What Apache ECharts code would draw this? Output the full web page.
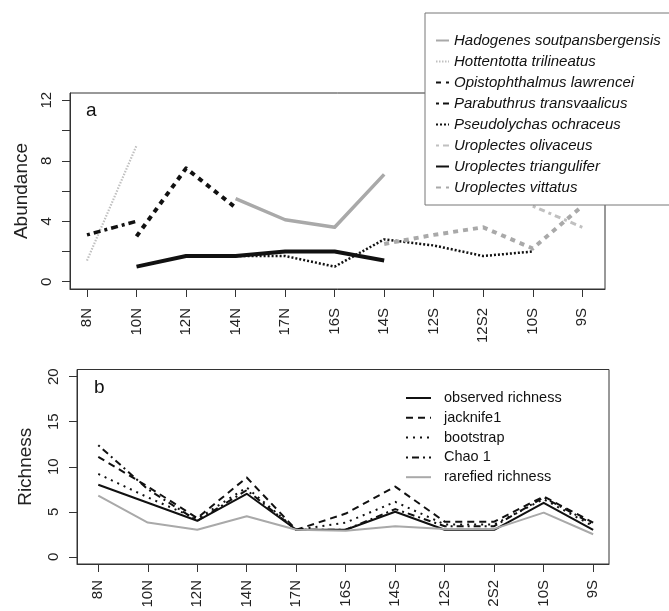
<!DOCTYPE html>
<html><head><meta charset="utf-8">
<script src="https://cdn.jsdelivr.net/npm/echarts@6/dist/echarts.min.js"></script>
<style>html,body{margin:0;padding:0;background:#fff}#c{width:669px;height:611px}</style>
</head><body><div id="c"></div>
<script>
// ---------- Panel a data ----------
var sitesA = ['8N','10N','12N','14N','17N','16S','14S','12S','12S2','10S','9S'];
var hadogenes    = [null,null,null,5.5,4.1,3.6,7.1,null,null,null,null];
var hottentotta  = [1.4,9.0,null,null,null,null,null,null,null,null,null];
var opistophthalmus = [null,3.0,7.5,4.9,null,null,null,null,null,null,null];
var parabuthrus  = [3.1,4.0,null,null,null,null,null,null,null,null,null];
var pseudolychas = [null,null,null,1.7,1.7,1.0,2.8,2.4,1.7,2.0,null];
var olivaceus    = [null,null,null,null,null,null,null,null,null,5.0,3.6];
var triangulifer = [null,1.0,1.7,1.7,2.0,2.0,1.4,null,null,null,null];
var vittatus     = [null,null,null,null,null,null,2.5,3.1,3.6,2.2,5.0];
var ticksA = [0,2,4,6,8,10,12];
var labelsA = [0,4,8,12];

// ---------- Panel b data ----------
var sitesB = ['8N','10N','12N','14N','17N','16S','14S','12S','2S2','10S','9S'];
var observed  = [8,6,4,7,3,3,5,3,3,6,3];
var jacknife1 = [11.1,7.8,4.3,8.8,3.0,4.8,7.8,3.9,3.9,6.7,3.8];
var bootstrap = [9.2,6.6,4.2,7.7,3.0,3.8,6.1,3.6,3.6,6.4,3.4];
var chao1     = [12.4,7.5,4.0,7.4,3.0,3.0,5.3,3.4,3.4,6.6,3.6];
var rarefied  = [6.8,3.8,3.0,4.5,3.0,2.9,3.4,3.1,3.1,4.9,2.5];
var ticksB = [0,5,10,15,20];

function pairs(arr){
  var out = [];
  arr.forEach(function(v,i){ if(v!==null) out.push([i,v]); });
  return out;
}
var idx = sitesA.map(function(_,i){return i;});
var FONT = '"Liberation Sans", Arial, sans-serif';

function xAxis(gi, sites, min, max, margin){
  return {
    type:'value', gridIndex:gi, min:min, max:max,
    axisLine:{show:true, onZero:false, lineStyle:{color:'#333',width:1}}, splitLine:{show:false},
    axisTick:{show:true, inside:false, length:8, customValues:idx, lineStyle:{color:'#333',width:1}},
    axisLabel:{show:true, customValues:idx, rotate:90, margin:margin, fontSize:15, color:'#222', fontFamily:FONT,
      formatter:function(v){ return sites[Math.round(v)]; }}
  };
}
function yAxis(gi, min, max, ticks, labels, name, nameGap){
  return {
    type:'value', gridIndex:gi, min:min, max:max,
    name:name, nameLocation:'middle', nameRotate:90, nameGap:nameGap,
    nameTextStyle:{fontSize:19, color:'#222', fontFamily:FONT},
    axisLine:{show:true, onZero:false, lineStyle:{color:'#333',width:1}}, splitLine:{show:false},
    axisTick:{show:true, inside:false, length:8, customValues:ticks, lineStyle:{color:'#333',width:1}},
    axisLabel:{show:true, customValues:labels, rotate:90, align:'center', verticalAlign:'bottom', margin:16,
      fontSize:15, color:'#222', fontFamily:FONT}
  };
}
function ser(name, arr, xi, color, width, type){
  return {
    name:name, type:'line', xAxisIndex:xi, yAxisIndex:xi, data:pairs(arr),
    showSymbol:false, symbol:'none', animation:false, silent:true,
    lineStyle:{color:color, width:width, type:type, cap:'butt', join:'round'},
    itemStyle:{color:color}
  };
}

var GRAY = '#a9a9a9', LGRAY = '#c0c0c0', BLK = '#111';
var sA = [
  ser('Hadogenes soutpansbergensis', hadogenes, 0, GRAY, 3.5, 'solid'),
  ser('Hottentotta trilineatus', hottentotta, 0, LGRAY, 2.2, [1.5,1.5]),
  ser('Opistophthalmus lawrencei', opistophthalmus, 0, BLK, 4, [5,5]),
  ser('Parabuthrus transvaalicus', parabuthrus, 0, BLK, 3.5, [3,4,7,4]),
  ser('Pseudolychas ochraceus', pseudolychas, 0, BLK, 2.5, [2,2]),
  ser('Uroplectes olivaceus', olivaceus, 0, LGRAY, 3, [3,4,6,4]),
  ser('Uroplectes triangulifer', triangulifer, 0, BLK, 4, 'solid'),
  ser('Uroplectes vittatus', vittatus, 0, GRAY, 4, [5,5])
];
var sB = [
  ser('observed richness', observed, 1, BLK, 2, 'solid'),
  ser('jacknife1', jacknife1, 1, BLK, 2, [7,5]),
  ser('bootstrap', bootstrap, 1, BLK, 2, [2,5]),
  ser('Chao 1', chao1, 1, BLK, 2, [2,4,7,4]),
  ser('rarefied richness', rarefied, 1, GRAY, 2, 'solid')
];

var chart = echarts.init(document.getElementById('c'), null, {renderer:'canvas'});
chart.setOption({
  animation:false,
  backgroundColor:'#fff',
  title:[
    {text:'a', left:86, top:101, padding:0, textStyle:{fontSize:19, fontWeight:'normal', color:'#111', fontFamily:FONT}},
    {text:'b', left:94, top:378, padding:0, textStyle:{fontSize:19, fontWeight:'normal', color:'#111', fontFamily:FONT}}
  ],
  grid:[
    {left:70, top:93, width:535, height:196, show:true, borderColor:'#333', borderWidth:1, backgroundColor:'transparent'},
    {left:77, top:369.5, width:532, height:194.5, show:true, borderColor:'#333', borderWidth:1, backgroundColor:'transparent'}
  ],
  xAxis:[ xAxis(0, sitesA, -0.343, 10.458, 19), xAxis(1, sitesB, -0.43, 10.32, 16) ],
  yAxis:[ yAxis(0, -0.48, 12.48, ticksA, labelsA, 'Abundance', 39),
          yAxis(1, -0.8, 20.8, ticksB, ticksB, 'Richness', 42) ],
  legend:[
    {data:sA.map(function(s){return s.name;}), orient:'vertical', left:425, top:13,
     padding:[20,30,10,10], itemGap:6, itemWidth:13, itemHeight:14,
     borderColor:'#777', borderWidth:1, backgroundColor:'#fff',
     itemStyle:{opacity:0},
     textStyle:{fontSize:15, fontStyle:'italic', color:'#111', fontFamily:FONT}},
    {data:sB.map(function(s){return s.name;}), orient:'vertical', left:405, top:390.5,
     padding:0, itemGap:4.8, itemWidth:25, itemHeight:12,
     itemStyle:{opacity:0},
     textStyle:{fontSize:14.5, color:'#111', fontFamily:FONT, padding:[0,0,0,8]}}
  ],
  series: sA.concat(sB)
});
</script></body></html>
